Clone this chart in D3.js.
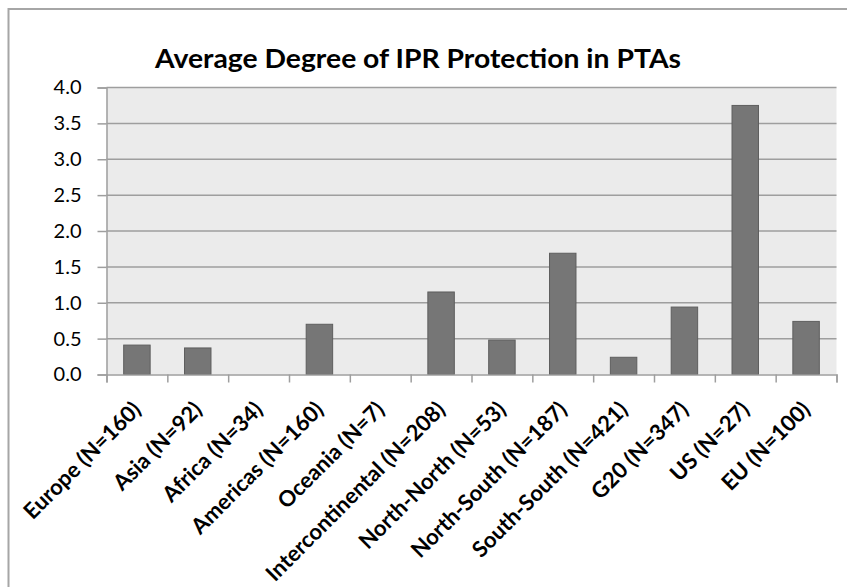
<!DOCTYPE html>
<html>
<head>
<meta charset="utf-8">
<script src="https://cdn.jsdelivr.net/npm/d3@7"></script>
<style>
  body { margin: 0; background: #fff; }
  text { font-family: Lato, "Open Sans", sans-serif; fill: #000; }
</style>
</head>
<body>
<div id="chart"></div>
<script>
// data
var categories = ["Europe (N=160)", "Asia (N=92)", "Africa (N=34)", "Americas (N=160)", "Oceania (N=7)",
  "Intercontinental (N=208)", "North-North (N=53)", "North-South (N=187)", "South-South (N=421)",
  "G20 (N=347)", "US (N=27)", "EU (N=100)"];
var values = [0.41, 0.37, 0, 0.70, 0, 1.15, 0.48, 1.69, 0.24, 0.94, 3.75, 0.74];
var yTicks = [0, 0.5, 1, 1.5, 2, 2.5, 3, 3.5, 4];
var title = "Average Degree of IPR Protection in PTAs";

var W = 847, H = 587;
var margin = {top: 87.5, right: 10.5, bottom: 212.5, left: 106.5},
    width = W - margin.left - margin.right,
    height = H - margin.top - margin.bottom;

var svg = d3.select("#chart")
  .append("svg")
    .attr("width", W)
    .attr("height", H);

// outer chart border (only left and top are inside the frame)
svg.append("rect")
    .attr("x", 8.5).attr("y", 9)
    .attr("width", W + 20).attr("height", H + 20)
    .style("fill", "none")
    .style("stroke", "#a6a6a6")
    .style("stroke-width", 2);

svg.append("text")
    .attr("x", 418).attr("y", 68)
    .attr("text-anchor", "middle")
    .attr("textLength", 526)
    .attr("lengthAdjust", "spacingAndGlyphs")
    .style("font-size", "27px")
    .style("font-weight", "bold")
    .text(title);

var g = svg.append("g")
    .attr("transform", "translate(" + margin.left + "," + margin.top + ")");

var x = d3.scaleBand()
    .domain(categories)
    .range([0, width])
    .paddingInner(0.565)
    .paddingOuter(0.2825);

var y = d3.scaleLinear()
    .domain([0, 4])
    .range([height, 0]);

// plot background
g.append("rect")
    .attr("width", width).attr("height", height)
    .style("fill", "#ebebeb");

// gridlines
g.selectAll(".grid")
    .data(yTicks.slice(1))
    .enter()
    .append("line")
      .attr("x1", 0).attr("x2", width)
      .attr("y1", function(d) { return y(d); })
      .attr("y2", function(d) { return y(d); })
      .style("stroke", "#9e9e9e")
      .style("stroke-width", 1.5);

// bars
g.selectAll(".bar")
    .data(values)
    .enter()
    .append("rect")
      .attr("x", function(d, i) { return x(categories[i]); })
      .attr("y", function(d) { return y(d); })
      .attr("width", x.bandwidth())
      .attr("height", function(d) { return height - y(d); })
      .style("fill", "#767676")
      .style("stroke", "#5e5e5e")
      .style("stroke-width", 1);

// y axis
var yAxis = g.append("g")
    .call(d3.axisLeft(y).tickValues(yTicks).tickSize(9).tickPadding(16)
      .tickFormat(d3.format(".1f")));
yAxis.select(".domain").style("stroke", "#9e9e9e").style("stroke-width", 1.5);
yAxis.selectAll("line").style("stroke", "#9e9e9e").style("stroke-width", 1.5);
yAxis.selectAll("text").style("font-size", "20px").style("font-family", "Lato, sans-serif");

// x axis: ticks on category boundaries
var xb = d3.scaleLinear().domain([0, categories.length]).range([0, width]);
var xAxis = g.append("g")
    .attr("transform", "translate(0," + height + ")")
    .call(d3.axisBottom(xb).ticks(categories.length).tickSize(8).tickFormat(""));
xAxis.select(".domain").style("stroke", "#9e9e9e").style("stroke-width", 1.5);
xAxis.selectAll("line").style("stroke", "#9e9e9e").style("stroke-width", 1.5);

g.selectAll(".xlabel")
    .data(categories)
    .enter()
    .append("text")
      .attr("text-anchor", "end")
      .attr("transform", function(d) {
        var cx = x(d) + x.bandwidth() / 2;
        return "translate(" + cx + "," + (height + 31) + ") rotate(-45)";
      })
      .attr("dy", "0.35em")
      .style("font-size", "22px")
      .style("font-weight", "bold")
      .text(function(d) { return d; });
</script>
</body>
</html>
